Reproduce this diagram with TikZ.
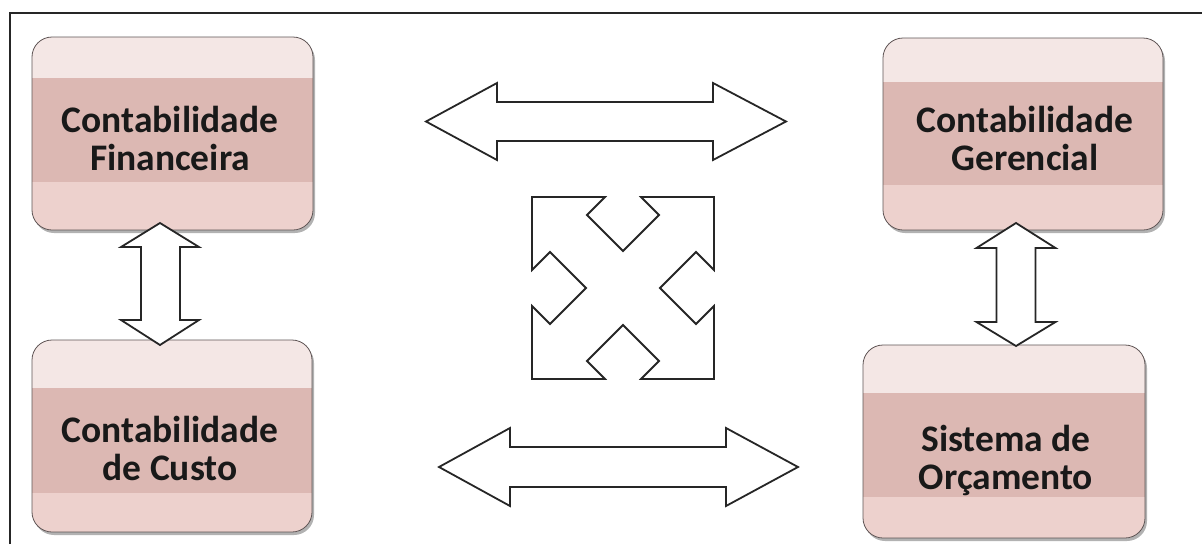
\documentclass[tikz,border=0pt]{standalone}
\usepackage{fontspec}
\newfontfamily\boxfont{Carlito}
\usetikzlibrary{calc,shadows}
\definecolor{ctop}{RGB}{244,231,229}
\definecolor{cmid}{RGB}{220,184,179}
\definecolor{cbot}{RGB}{237,209,205}
\definecolor{cedge}{RGB}{95,85,85}
\tikzset{
  pbox/.style 2 args={rounded corners=20pt, draw=cedge, line width=0.8pt,
    inner sep=0pt,
    drop shadow={shadow xshift=2pt, shadow yshift=-3pt, opacity=0.3, fill=black},
    path picture={
      \fill[ctop, sharp corners] (path picture bounding box.north west) rectangle (path picture bounding box.south east);
      \fill[cbot, sharp corners] ($(path picture bounding box.north west)+(0pt,-#1pt-#2pt)$) rectangle (path picture bounding box.south east);
      \fill[cmid, sharp corners] ($(path picture bounding box.north west)+(0pt,-#1pt)$) rectangle ($(path picture bounding box.north east)+(0pt,-#1pt-#2pt)$);
    }},
  lbl/.style={align=center, inner sep=0pt, text=black!90,
    font=\boxfont\bfseries\fontsize{37.5}{38}\selectfont},
  blockarrow/.style={draw=black!85, line width=1.8pt, fill=white, line join=miter},
  frame/.style={draw=black!85, line width=1.6pt}
}
\begin{document}
\begin{tikzpicture}[x=1pt,y=-1pt]
\useasboundingbox (0,0) rectangle (1202,544);
\fill[white] (0,0) rectangle (1202,544);
% frame (top and left edges visible)
\coordinate (fa) at (10,544);
\coordinate (fb) at (10,13);
\coordinate (fc) at (1202,13);
\draw[frame] (fa) -- (fb) -- (fc);

% boxes
\node[pbox={41}{104}, minimum width=281pt, minimum height=193pt] (fin) at (172.5,133.5) {};
\node[pbox={44}{103}, minimum width=280pt, minimum height=192pt] (ger) at (1023,134) {};
\node[pbox={48}{105}, minimum width=280pt, minimum height=192pt] (cus) at (172,436) {};
\node[pbox={48}{104}, minimum width=282pt, minimum height=193pt] (orc) at (1004,441.5) {};

\node[lbl] (fint) at (170,138.5) {Contabilidade\\Financeira};
\node[lbl] (gert) at (1025,138.5) {Contabilidade\\Gerencial};
\node[lbl] (cust) at (170,448.5) {Contabilidade\\de Custo};
\node[lbl] (orct) at (1006,460) {Sistema de\\Orçamento};

% vertical double arrows
\draw[blockarrow] (160,223) -- (199,247) -- (180,247) -- (180,320) -- (199,320) -- (160,345)
  -- (121,320) -- (141,320) -- (141,247) -- (121,247) -- cycle;
\draw[blockarrow] (1016,223) -- (1055.5,248) -- (1035.5,248) -- (1035.5,322) -- (1055.5,322) -- (1016,346)
  -- (976.5,322) -- (996.5,322) -- (996.5,248) -- (976.5,248) -- cycle;

% horizontal double arrows
\draw[blockarrow] (426,121.5) -- (497,83) -- (497,102) -- (713,102) -- (713,83) -- (786,121.5)
  -- (713,160) -- (713,141) -- (497,141) -- (497,160) -- cycle;
\draw[blockarrow] (439,467) -- (510,428) -- (510,447) -- (726,447) -- (726,428) -- (798,467)
  -- (726,506) -- (726,487) -- (510,487) -- (510,506) -- cycle;

% four-way diagonal arrow
\begin{scope}[shift={(623,288)}]
\draw[blockarrow] (-91,-91) -- (-18,-91) -- (-36,-73) -- (0,-37) -- (36,-73) -- (18,-91)
  -- (91,-91) -- (91,-18) -- (73,-36) -- (37,0) -- (73,36) -- (91,18)
  -- (91,91) -- (18,91) -- (36,73) -- (0,37) -- (-36,73) -- (-18,91)
  -- (-91,91) -- (-91,18) -- (-73,36) -- (-37,0) -- (-73,-36) -- (-91,-18) -- cycle;
\end{scope}
\end{tikzpicture}
\end{document}
